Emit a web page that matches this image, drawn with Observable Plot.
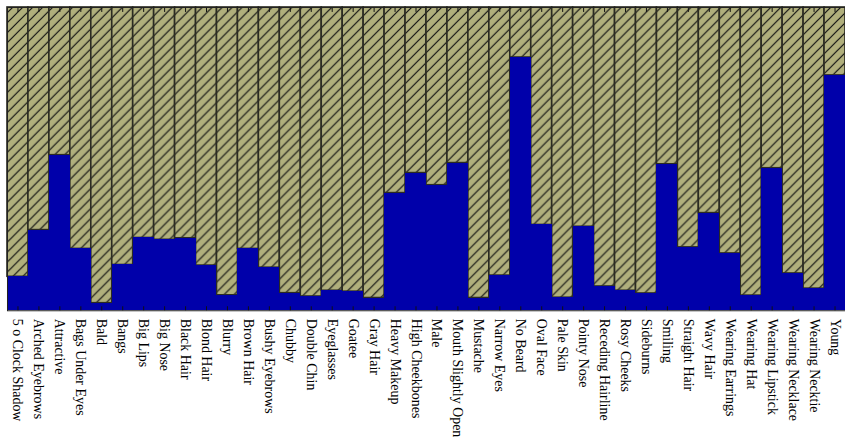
<!DOCTYPE html>
<html>
<head>
<meta charset="utf-8">
<script src="https://cdn.jsdelivr.net/npm/d3@7"></script>
<script src="https://cdn.jsdelivr.net/npm/@observablehq/plot@0.6"></script>
<style>
  html, body { margin: 0; padding: 0; background: white; overflow: hidden; }
</style>
</head>
<body>
<div id="chart"></div>
<script>
const attributes = [
  "5 o Clock Shadow", "Arched Eyebrows", "Attractive", "Bags Under Eyes", "Bald",
  "Bangs", "Big Lips", "Big Nose", "Black Hair", "Blond Hair",
  "Blurry", "Brown Hair", "Bushy Eyebrows", "Chubby", "Double Chin",
  "Eyeglasses", "Goatee", "Gray Hair", "Heavy Makeup", "High Cheekbones",
  "Male", "Mouth Slightly Open", "Mustache", "Narrow Eyes", "No Beard",
  "Oval Face", "Pale Skin", "Pointy Nose", "Receding Hairline", "Rosy Cheeks",
  "Sideburns", "Smiling", "Straight Hair", "Wavy Hair", "Wearing Earrings",
  "Wearing Hat", "Wearing Lipstick", "Wearing Necklace", "Wearing Necktie", "Young"
];
const positiveFraction = [
  0.112, 0.266, 0.513, 0.204, 0.025,
  0.151, 0.240, 0.234, 0.239, 0.149,
  0.051, 0.204, 0.142, 0.058, 0.047,
  0.066, 0.063, 0.042, 0.388, 0.454,
  0.414, 0.487, 0.042, 0.116, 0.835,
  0.283, 0.043, 0.277, 0.080, 0.066,
  0.057, 0.483, 0.209, 0.322, 0.189,
  0.050, 0.470, 0.123, 0.073, 0.776
];

const data = attributes.map((name, i) => ({name, p: positiveFraction[i]}));

const svg = Plot.plot({
  width: 847,
  height: 441,
  marginTop: 7,
  marginLeft: 7,
  marginRight: 0,
  marginBottom: 130,
  style: {fontFamily: "'Liberation Serif', serif", fontSize: "14px", color: "black", background: "white"},
  x: {domain: attributes, padding: 0, label: null},
  y: {domain: [0, 1], axis: null},
  marks: [
    Plot.barY(data, {x: "name", y1: "p", y2: 1, fill: "url(#hatch)", stroke: "#2b2b22", strokeWidth: 1.6}),
    Plot.barY(data, {x: "name", y1: 0, y2: "p", fill: "#0000aa", shapeRendering: "crispEdges"}),
    Plot.frame({stroke: "#222", strokeWidth: 1}),
    Plot.axisX({anchor: "bottom", tickSize: 0, tickPadding: 8, tickRotate: 90, label: null, fontSize: 14}),
    Plot.axisX({anchor: "bottom", tickSize: -4, tickFormat: () => "", label: null, stroke: "#111"}),
    Plot.axisX({anchor: "top", tickSize: -4, tickFormat: () => "", label: null, stroke: "#111"})
  ]
});

const S = 10;
const defs = d3.select(svg).insert("defs", ":first-child");
const pat = defs.append("pattern")
  .attr("id", "hatch")
  .attr("patternUnits", "userSpaceOnUse")
  .attr("width", S)
  .attr("height", S);
pat.append("rect").attr("width", S).attr("height", S).attr("fill", "#b0af7c");
pat.append("path")
  .attr("d", `M-1,1 l2,-2 M0,${S} l${S},-${S} M${S - 1},${S + 1} l2,-2`)
  .attr("stroke", "#111")
  .attr("stroke-width", 1.2);

document.getElementById("chart").appendChild(svg);
</script>
</body>
</html>
